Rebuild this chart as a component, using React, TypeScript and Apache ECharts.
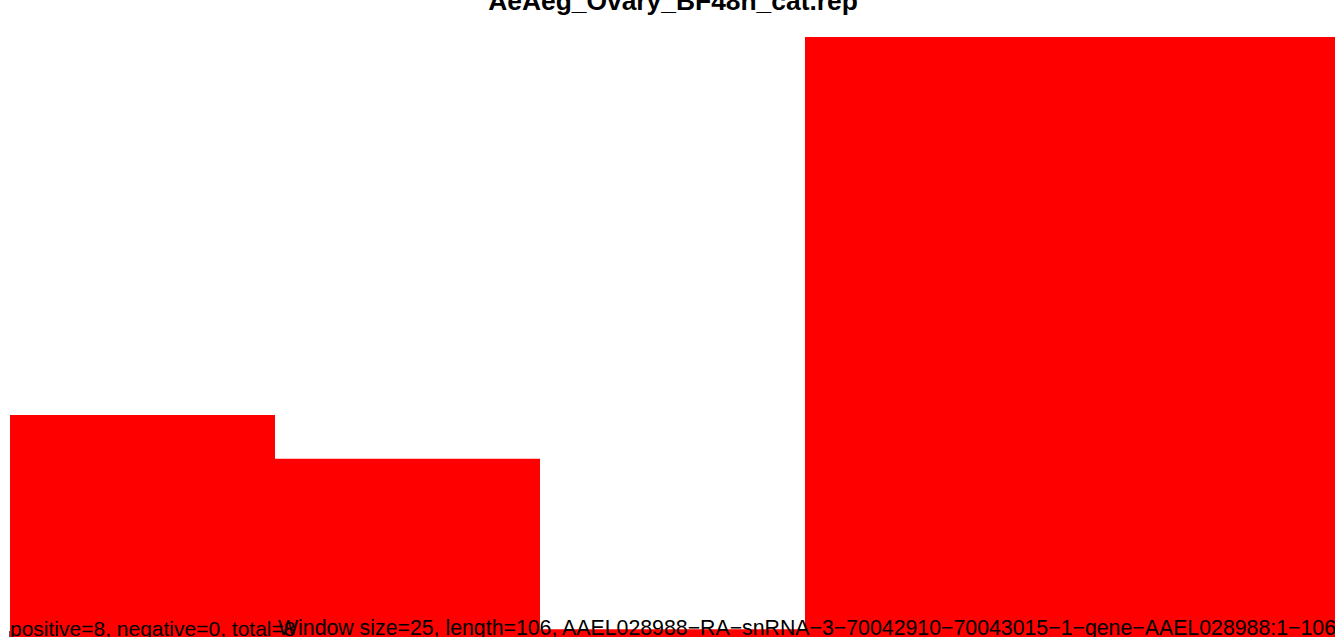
import React, { useEffect, useRef } from "react";
import * as echarts from "echarts";

const titleText = "AeAeg_Ovary_BF48h_cat.rep";
const leftNote = "positive=8, negative=0, total=8";
const rightNote =
  "Window size=25, length=106, AAEL028988\u2212RA\u2212snRNA\u22123\u221270042910\u221270043015\u22121\u2212gene\u2212AAEL028988:1\u2212106";
const windows = ["1-25", "26-50", "51-75", "76-100", "101-106"];
const values = [37.0, 29.7, 1.3, 100, 100];

export default function App() {
  const ref = useRef<HTMLDivElement>(null);
  useEffect(() => {
    if (!ref.current) return;
    const chart = echarts.init(ref.current, undefined, { renderer: "svg" });
    chart.setOption({
      animation: false,
      backgroundColor: "#ffffff",
      grid: { left: 10, top: 37, width: 1329, height: 600, containLabel: false },
      xAxis: {
        type: "category",
        data: windows,
        show: false,
      },
      yAxis: { type: "value", min: 0, max: 100, show: false },
      series: [
        {
          type: "bar",
          data: values,
          barCategoryGap: "0%",
          itemStyle: { color: "#ff0000" },
          silent: true,
        },
      ],
      graphic: [
        {
          type: "text",
          x: 673,
          y: 1,
          z: 10,
          style: {
            text: titleText,
            font: "bold 26.4px 'Liberation Sans', Arial, sans-serif",
            fill: "#000",
            textAlign: "center",
            textVerticalAlign: "middle",
          },
        },
        {
          type: "line",
          z: 10,
          shape: { x1: 9.5, y1: 631, x2: 9.5, y2: 640 },
          style: { stroke: "#555", lineWidth: 1 },
        },
        {
          type: "text",
          x: 10,
          y: 628,
          z: 10,
          style: {
            text: leftNote,
            font: "21px 'Liberation Sans', Arial, sans-serif",
            fill: "#000",
            textAlign: "left",
            textVerticalAlign: "middle",
          },
        },
        {
          type: "text",
          x: 1336,
          y: 628,
          z: 10,
          style: {
            text: rightNote,
            font: "21.3px 'Liberation Sans', Arial, sans-serif",
            fill: "#000",
            textAlign: "right",
            textVerticalAlign: "middle",
          },
        },
      ],
    });
    return () => chart.dispose();
  }, []);
  return (
    <div
      ref={ref}
      style={{ position: "fixed", left: 0, top: 0, width: 1335, height: 637 }}
    />
  );
}
